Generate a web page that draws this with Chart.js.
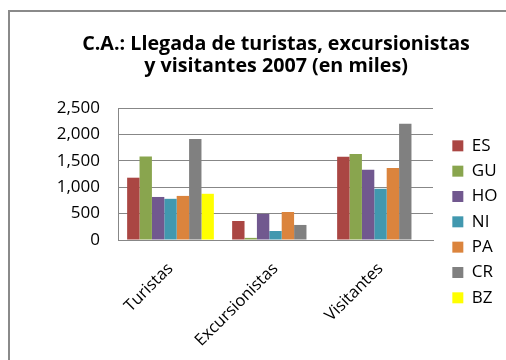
<!DOCTYPE html>
<html>
<head>
<meta charset="utf-8">
<script src="https://cdn.jsdelivr.net/npm/chart.js@4.4.0/dist/chart.umd.min.js"></script>
<style>
  html, body { margin: 0; padding: 0; background: #fff; overflow: hidden; }
  #wrap { position: relative; width: 506px; height: 360px; overflow: hidden; }
  #frame { position: absolute; left: 8px; top: 10px; width: 600px; height: 500px;
           border: 2px solid #8a8a8a; box-sizing: border-box; pointer-events: none; }
  canvas { position: absolute; left: 0; top: 0; }
</style>
</head>
<body>
<div id="wrap">
  <canvas id="c" width="506" height="360"></canvas>
  <div id="frame"></div>
</div>
<script>
// Categories and tourism arrivals per country (thousands), 2007
const categories = ['Turistas', 'Excursionistas', 'Visitantes'];
const countries = ['ES', 'GU', 'HO', 'NI', 'PA', 'CR', 'BZ'];
const ES = [1180, 360, 1575];
const GU = [1580, 40, 1630];
const HO = [815, 495, 1330];
const NI = [780, 170, 970];
const PA = [835, 530, 1365];
const CR = [1915, 285, 2200];
const BZ = [875, null, null];
const yTicks = [0, 500, 1000, 1500, 2000, 2500];
const titleLines = ['C.A.: Llegada de turistas, excursionistas', 'y visitantes 2007 (en miles)'];

const seriesValues = [ES, GU, HO, NI, PA, CR, BZ];
const colors = ['#AA4643', '#89A54E', '#71588F', '#4198AF', '#DB843D', '#808080', '#FFFF00'];
const FONT = '"Open Sans", Lato, sans-serif';
const GRID = '#878787';

const datasets = countries.map((name, i) => ({
  label: name,
  data: seriesValues[i],
  backgroundColor: colors[i],
  borderWidth: 0,
  categoryPercentage: 0.826,
  barPercentage: 1.0
}));

new Chart(document.getElementById('c'), {
  type: 'bar',
  data: { labels: categories, datasets },
  options: {
    responsive: false,
    animation: false,
    layout: { padding: { left: 53, right: 7, top: 0, bottom: 0 } },
    plugins: {
      tooltip: { enabled: false },
      title: {
        display: true,
        text: titleLines,
        color: '#000',
        font: { family: FONT, size: 19.7, weight: 'bold', lineHeight: '22px' },
        padding: { top: 33, bottom: 31 }
      },
      legend: {
        position: 'right',
        align: 'start',
        maxWidth: 55,
        // empty legend title acts as top spacing for the key
        title: { display: true, text: '', font: { size: 12, lineHeight: 1 }, padding: { top: 117, bottom: 0 } },
        labels: {
          color: '#000',
          font: { family: FONT, size: 17 },
          boxWidth: 11,
          boxHeight: 11,
          padding: 8.33
        }
      }
    },
    scales: {
      x: {
        grid: { display: false, drawTicks: false },
        border: { display: true, color: GRID, width: 1 },
        ticks: {
          color: '#000',
          font: { family: FONT, size: 16.5 },
          minRotation: 45,
          maxRotation: 45,
          padding: 19,
          labelOffset: 0
        },
        afterFit(scale) { scale.height = 120; }
      },
      y: {
        min: 0,
        max: 2500,
        afterBuildTicks(scale) { scale.ticks = yTicks.map(v => ({ value: v })); },
        grid: { color: GRID, lineWidth: 1, drawTicks: false },
        border: { display: true, color: GRID, width: 1 },
        ticks: {
          color: '#000',
          font: { family: FONT, size: 17 },
          padding: 18,
          callback: v => Number(v).toLocaleString('en-US')
        },
        afterFit(scale) { scale.width = 65; }
      },
      // blank strip between the plot and the key
      gap: {
        type: 'linear',
        position: 'right',
        grid: { display: false },
        border: { display: false },
        ticks: { display: false },
        afterFit(scale) { scale.width = 11; }
      }
    }
  }
});
</script>
</body>
</html>
